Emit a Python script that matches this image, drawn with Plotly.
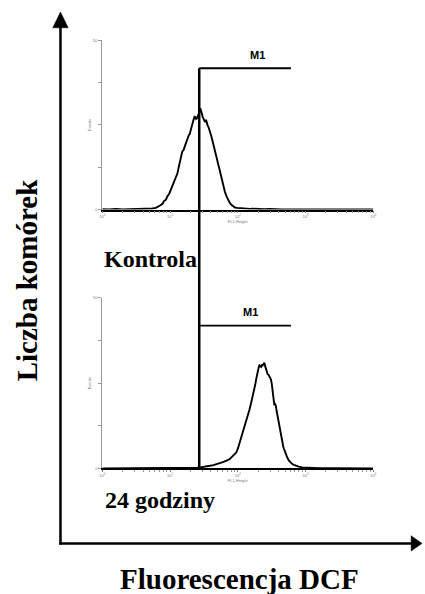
import plotly.graph_objects as go

# ---- data: DCF fluorescence histograms (log10 of FL1 intensity, events) ----
ctrl_log_fl = [0.00, 0.10, 0.20, 0.30, 0.40, 0.50, 0.60, 0.66, 0.70, 0.74,
               0.79, 0.83, 0.86, 0.89, 0.91, 0.94, 0.96, 0.99, 1.01, 1.04,
               1.06, 1.08, 1.11, 1.13, 1.155, 1.18, 1.20, 1.214, 1.23, 1.243,
               1.26, 1.277, 1.29, 1.301, 1.313, 1.325, 1.34, 1.35, 1.362, 1.374,
               1.386, 1.398, 1.41, 1.422, 1.435, 1.447, 1.459, 1.471, 1.483, 1.495,
               1.507, 1.519, 1.532, 1.544, 1.556, 1.568, 1.58, 1.592, 1.605, 1.617,
               1.63, 1.641, 1.653, 1.665, 1.677, 1.689, 1.70, 1.714, 1.726, 1.738,
               1.75, 1.762, 1.775, 1.786, 1.81, 1.835, 1.86, 1.883, 1.91, 1.932,
               1.96, 1.99, 2.03, 2.08, 2.13, 2.18, 2.22, 2.28, 2.34, 2.40,
               2.47, 2.55, 2.65, 2.80, 3.00, 3.30, 3.60, 4.00]
ctrl_events = [0.1, 0, 0.15, 0, 0.1, 0.15, 0.1, 0.25, 0.15, 0.3,
               0.5, 0.8, 1.25, 1.7, 2.45, 2.9, 3.9, 4.75, 5.85, 7.25,
               8.5, 9.4, 10.7, 12.65, 15.1, 17.05, 17.6, 18.5, 18.9, 20.45,
               21.5, 21.95, 22.25, 22.9, 24.0, 24.85, 26.0, 26.6, 27.4, 27.3,
               26.75, 27.0, 27.5, 27.8, 28.75, 29.9, 28.5, 28.25, 27.25, 26.6,
               26.2, 25.85, 26.5, 25.35, 24.75, 24.35, 23.75, 22.9, 22.0, 21.15,
               20.25, 19.0, 18.0, 17.05, 16.25, 15.3, 14.0, 13.15, 12.25, 11.2,
               9.75, 8.75, 7.75, 6.8, 5.25, 3.9, 2.75, 1.95, 1.3, 0.95,
               0.6, 0.5, 0.4, 0.3, 0.25, 0.2, 0.25, 0.15, 0.2, 0.1,
               0.2, 0.1, 0.05, 0.05, 0, 0, 0, 0]

h24_log_fl = [0.0, 0.3, 0.6, 0.9, 1.0, 1.107, 1.2, 1.3, 1.398, 1.447,
              1.50, 1.544, 1.59, 1.641, 1.69, 1.738, 1.78, 1.835, 1.86, 1.883,
              1.91, 1.932, 1.955, 1.981, 2.005, 2.029, 2.055, 2.078, 2.10, 2.126,
              2.15, 2.175, 2.199, 2.223, 2.236, 2.248, 2.26, 2.272, 2.284, 2.296,
              2.308, 2.320, 2.333, 2.345, 2.357, 2.369, 2.381, 2.393, 2.405, 2.417,
              2.43, 2.442, 2.454, 2.466, 2.478, 2.490, 2.503, 2.515, 2.527, 2.539,
              2.551, 2.563, 2.575, 2.587, 2.60, 2.612, 2.624, 2.636, 2.648, 2.660,
              2.672, 2.684, 2.697, 2.709, 2.733, 2.757, 2.78, 2.806, 2.83, 2.854,
              2.90, 2.951, 3.02, 3.097, 3.2, 3.4, 3.7, 4.0]
h24_events = [0, 0.05, 0, 0.1, 0, 0.2, 0.15, 0.2, 0.2, 0.3,
              0.4, 0.6, 0.75, 0.95, 1.2, 1.45, 1.8, 2.25, 2.5, 2.75,
              3.3, 3.7, 4.1, 4.7, 6.0, 7.6, 9.0, 10.55, 12.0, 13.45,
              15.5, 17.35, 19.3, 21.25, 22.0, 23.2, 24.75, 26.1, 27.5, 28.55,
              29.5, 30.2, 30.0, 29.8, 30.5, 30.2, 30.6, 31.0, 30.0, 29.05,
              28.25, 27.6, 27.5, 27.1, 26.75, 26.1, 24.75, 23.2, 21.0, 18.8,
              18.9, 18.3, 16.75, 15.4, 14.0, 12.45, 11.0, 9.55, 8.25, 7.1,
              6.4, 5.65, 4.9, 4.2, 3.1, 2.25, 1.7, 1.25, 1.0, 0.8,
              0.5, 0.3, 0.2, 0.1, 0.05, 0.05, 0, 0]

# M1 marker gate (FL1 intensity) and its drawing level (events)
gate_name = "M1"
gate_lo = 27
gate_hi = 610
gate_level = [41.7, 41.9]   # upper panel, lower panel

panel_labels = ["Kontrola", "24 godziny"]
y_title = "Liczba komórek"
x_title = "Fluorescencja DCF"
decade_vals = [1, 10, 100, 1000, 10000]
decade_text = ["10<sup>0</sup>", "10<sup>1</sup>", "10<sup>2</sup>", "10<sup>3</sup>", "10<sup>4</sup>"]
events_max = 50

W, H = 425, 594


def px(x):
    return x / W


def py(y):
    return 1 - y / H


fig = go.Figure()
for i, (lf, ev) in enumerate([(ctrl_log_fl, ctrl_events), (h24_log_fl, h24_events)]):
    suffix = "" if i == 0 else "2"
    fig.add_trace(go.Scatter(
        x=[10 ** v for v in lf], y=ev, mode="lines",
        line=dict(color="black", width=1.9),
        xaxis="x" + suffix, yaxis="y" + suffix, showlegend=False,
        hoverinfo="skip"))

x_dom = [px(100.7), px(375.5)]
y_doms = [[py(208.3), py(37.5)], [py(469.3), py(297.5)]]

small = dict(size=4, color="#777", family="Liberation Sans")

axis_x = dict(
    type="log", range=[0, 4], domain=x_dom, showgrid=False, zeroline=False,
    showline=True, linecolor="black", linewidth=1.5,
    ticks="outside", ticklen=2, tickcolor="#777", tickwidth=0.8,
    tickvals=decade_vals, ticktext=decade_text, tickfont=small,
    minor=dict(ticks="outside", ticklen=1.5, tickcolor="#999", dtick="D1"),
    title=dict(text="FL1-Height", font=small, standoff=1),
    fixedrange=True,
)
axis_y = dict(
    range=[0, events_max], showgrid=False, zeroline=False,
    showline=True, linecolor="#999", linewidth=1,
    ticks="outside", ticklen=3, tickcolor="#999", tickwidth=0.8,
    tickvals=[0, 12.5, 25, 37.5, 50], ticktext=["0", "", "", "", "50"],
    tickfont=small,
    title=dict(text="Events", font=small, standoff=1),
    fixedrange=True,
)

fig.update_layout(
    width=W, height=H, autosize=False,
    margin=dict(l=0, r=0, t=0, b=0),
    paper_bgcolor="white", plot_bgcolor="white",
    xaxis=dict(axis_x, anchor="y"),
    yaxis=dict(axis_y, domain=y_doms[0], anchor="x"),
    xaxis2=dict(axis_x, anchor="y2"),
    yaxis2=dict(axis_y, domain=y_doms[1], anchor="x2"),
)

shapes = []
# M1 gate bars
for i, suffix in enumerate(["", "2"]):
    shapes.append(dict(type="line", xref="x" + suffix, yref="y" + suffix,
                       x0=gate_lo, x1=gate_hi, y0=gate_level[i], y1=gate_level[i],
                       line=dict(color="black", width=2 if i == 0 else 1.7)))
# gate boundary running through both panels
shapes.append(dict(type="line", xref="x", yref="paper",
                   x0=gate_lo, x1=gate_lo,
                   y0=y_doms[1][0],
                   y1=y_doms[0][0] + gate_level[0] / events_max * (y_doms[0][1] - y_doms[0][0]),
                   line=dict(color="black", width=2.5)))

# outer axes with arrowheads
shapes.append(dict(type="line", xref="paper", yref="paper",
                   x0=px(58.3), x1=px(58.3), y0=py(546), y1=py(22),
                   line=dict(color="black", width=2.5)))
shapes.append(dict(type="line", xref="paper", yref="paper",
                   x0=px(57), x1=px(418), y0=py(545), y1=py(545),
                   line=dict(color="black", width=2.5)))
shapes.append(dict(type="path", xref="paper", yref="paper",
                   path=f"M {px(58.3)},{py(9)} L {px(50.5)},{py(25)} L {px(66.1)},{py(25)} Z",
                   fillcolor="black", line=dict(color="black", width=0.5)))
shapes.append(dict(type="path", xref="paper", yref="paper",
                   path=f"M {px(425)},{py(545)} L {px(414)},{py(537.3)} L {px(414)},{py(552.7)} Z",
                   fillcolor="black", line=dict(color="black", width=0.5)))
fig.update_layout(shapes=shapes)

serif = "Liberation Serif"
sans = "Liberation Sans"
ann = [
    dict(text=f"<b>{gate_name}</b>", x=px(258.3), y=py(52.7),
         font=dict(size=11, family=sans, color="black")),
    dict(text=f"<b>{gate_name}</b>", x=px(250.7), y=py(311.7),
         font=dict(size=11, family=sans, color="black")),
    dict(text=f"<b>{panel_labels[0]}</b>", x=px(100.5), y=py(258), xanchor="left",
         font=dict(size=24, family=serif, color="black")),
    dict(text=f"<b>{panel_labels[1]}</b>", x=px(101.5), y=py(501), xanchor="left",
         font=dict(size=24, family=serif, color="black")),
    dict(text=f"<b>{x_title}</b>", x=px(240), y=py(580.5),
         font=dict(size=29, family=serif, color="black")),
    dict(text=f"<b>{y_title}</b>", x=px(24), y=py(279), textangle=-90,
         font=dict(size=29, family=serif, color="black")),
]
for a in ann:
    a.setdefault("xanchor", "center")
    fig.add_annotation(xref="paper", yref="paper", showarrow=False, yanchor="middle", **a)

fig.write_html("out.html")
